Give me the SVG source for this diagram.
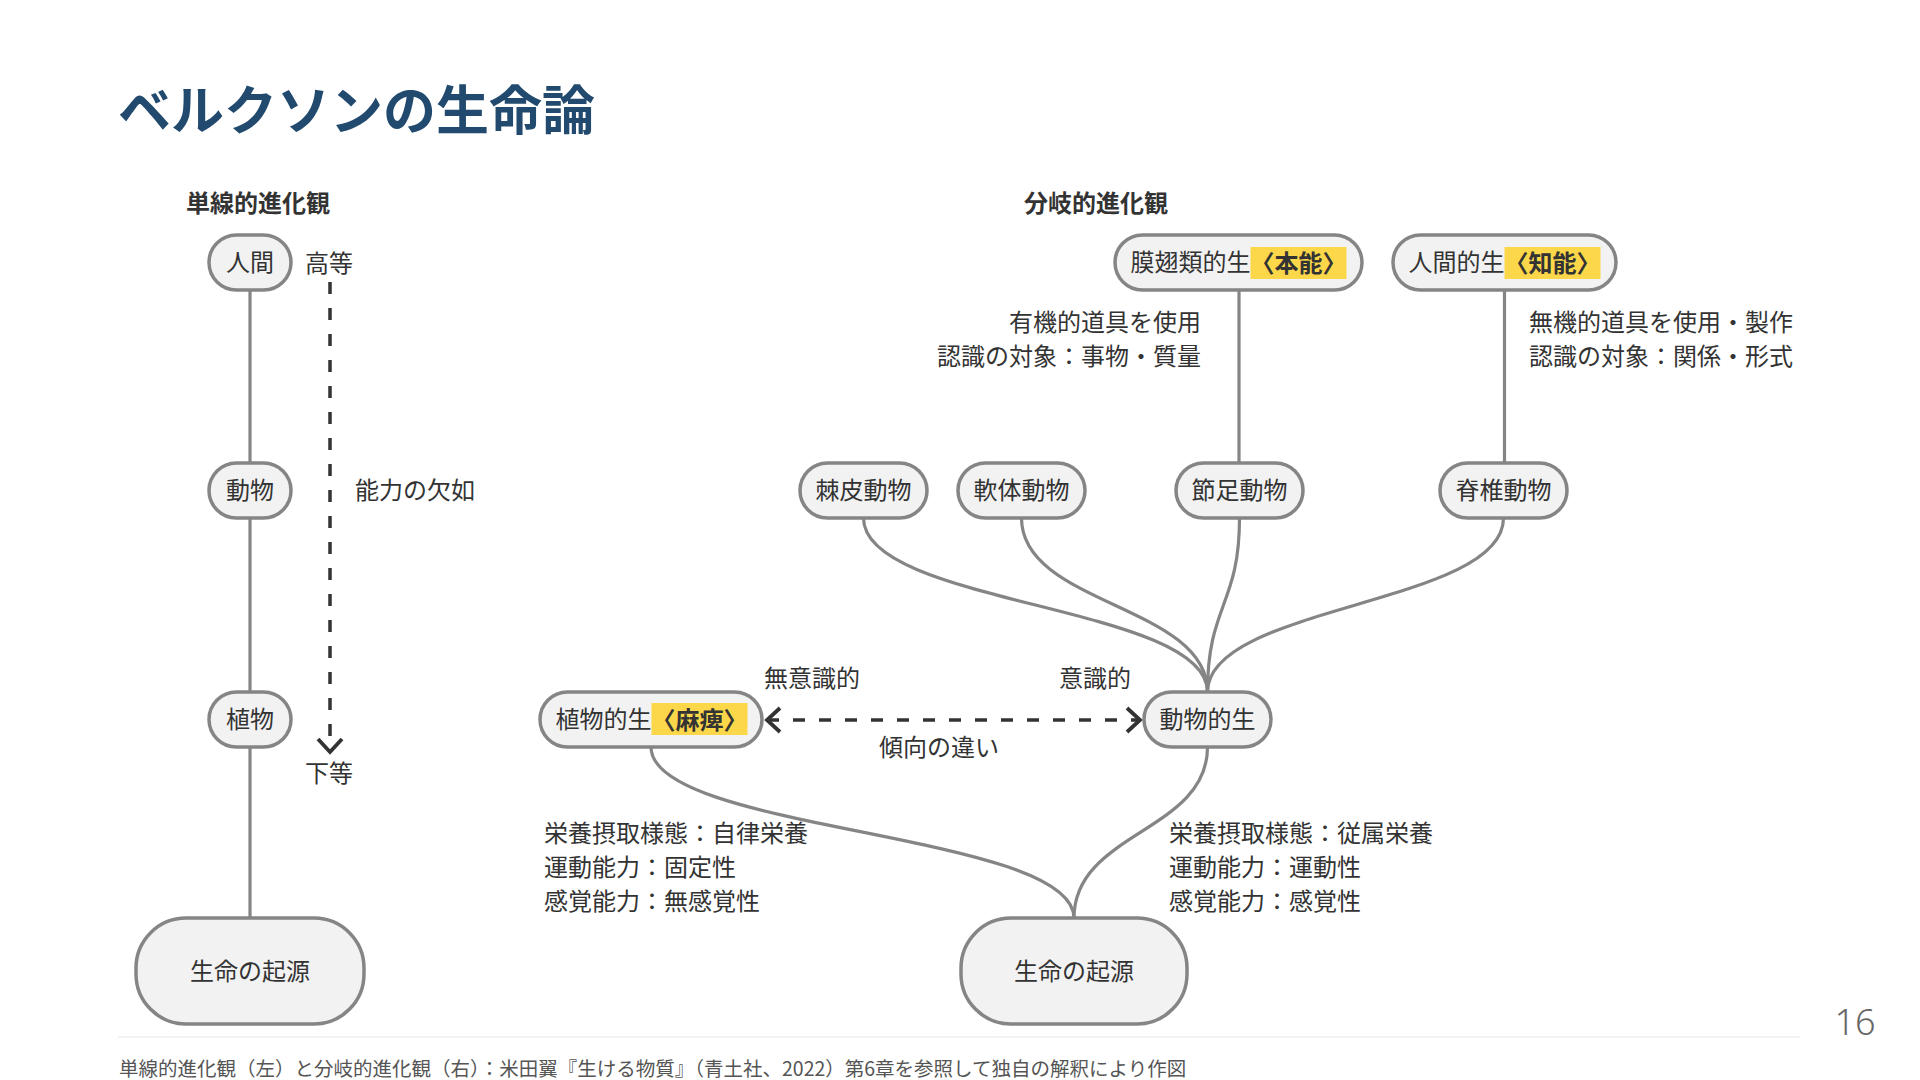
<svg xmlns="http://www.w3.org/2000/svg" width="1920" height="1080" viewBox="0 0 1920 1080">
<defs>
<style>
.t{font-family:"Noto Sans CJK JP","Noto Sans CJK SC",sans-serif;font-size:24px;fill:#333;dominant-baseline:central;transform:translate(0px,-2px)}
.b{font-weight:bold}
.n{fill:#f2f2f2;stroke:#858585;stroke-width:3.5}
.hl{fill:#fcd74a}
.e{fill:none;stroke:#858585;stroke-width:3.2}
.d{fill:none;stroke:#333;stroke-width:3.5;stroke-dasharray:12 14}
</style>
<marker id="chev" viewBox="0 0 20 30" markerWidth="20" markerHeight="30" refX="16" refY="15" orient="auto-start-reverse" markerUnits="userSpaceOnUse">
<path d="M3 3 L16 15 L3 27" fill="none" stroke="#333" stroke-width="3.8"/>
</marker>
</defs>
<rect width="1920" height="1080" fill="#fff"/>
<text x="118" y="130" font-family="'Noto Sans CJK JP',sans-serif" font-size="53" font-weight="bold" fill="#214a6e">ベルクソンの生命論</text>
<text class="t b" x="186" y="203">単線的進化観</text>
<text class="t b" x="1024" y="203">分岐的進化観</text>

<g id="connectors">
<path class="e" d="M250 290 V463"/>
<path class="e" d="M250 518 V692"/>
<path class="e" d="M250 747 V918"/>
<path class="d" d="M330 282 V752" marker-end="url(#chev)"/>
<path class="e" d="M1239 290 V463"/>
<path class="e" d="M1504.5 290 V463"/>
<path class="e" d="M863.5 518 C863.5 605 1207.5 605 1207.5 692"/>
<path class="e" d="M1021.5 518 C1021.5 605 1207.5 605 1207.5 692"/>
<path class="e" d="M1239.5 518 C1239.5 605 1207.5 605 1207.5 692"/>
<path class="e" d="M1503.5 518 C1503.5 605 1207.5 605 1207.5 692"/>
<path class="e" d="M651 747 C651 832 1074 832 1074 918"/>
<path class="e" d="M1207.5 747 C1207.5 832 1074 832 1074 918"/>
<path class="d" d="M767 720 H1140" marker-start="url(#chev)" marker-end="url(#chev)"/>
</g>

<g id="n-human"><rect class="n" x="209" y="235" width="82" height="55" rx="27.5"/><text class="t" x="250" y="262.5" text-anchor="middle">人間</text></g>
<g id="n-animal"><rect class="n" x="209" y="463" width="82" height="55" rx="27.5"/><text class="t" x="250" y="490.5" text-anchor="middle">動物</text></g>
<g id="n-plant"><rect class="n" x="209" y="692" width="82" height="55" rx="27.5"/><text class="t" x="250" y="719.5" text-anchor="middle">植物</text></g>
<g id="n-origin-left"><rect class="n" x="136" y="918" width="228" height="106" rx="50"/><text class="t" x="250" y="971" text-anchor="middle">生命の起源</text></g>
<text class="t" x="329" y="263" text-anchor="middle">高等</text>
<text class="t" x="329" y="773" text-anchor="middle">下等</text>
<text class="t" x="355" y="490">能力の欠如</text>

<g id="n-hymenoptera"><rect class="n" x="1115" y="235" width="247" height="55" rx="27.5"/><rect class="hl" x="1250.5" y="247" width="96" height="32"/><text class="t" x="1130.5" y="262.5">膜翅類的生<tspan class="b">〈本能〉</tspan></text></g>
<g id="n-humanlife"><rect class="n" x="1393" y="235" width="223" height="55" rx="27.5"/><rect class="hl" x="1504.5" y="247" width="96" height="32"/><text class="t" x="1408.5" y="262.5">人間的生<tspan class="b">〈知能〉</tspan></text></g>
<text class="t" x="1201" y="322" text-anchor="end">有機的道具を使用</text>
<text class="t" x="1201" y="356" text-anchor="end">認識の対象：事物・質量</text>
<text class="t" x="1529" y="322">無機的道具を使用・製作</text>
<text class="t" x="1529" y="356">認識の対象：関係・形式</text>

<g id="n-echino"><rect class="n" x="800" y="463" width="127" height="55" rx="27.5"/><text class="t" x="863.5" y="490.5" text-anchor="middle">棘皮動物</text></g>
<g id="n-mollusc"><rect class="n" x="958" y="463" width="127" height="55" rx="27.5"/><text class="t" x="1021.5" y="490.5" text-anchor="middle">軟体動物</text></g>
<g id="n-arthro"><rect class="n" x="1176" y="463" width="127" height="55" rx="27.5"/><text class="t" x="1239.5" y="490.5" text-anchor="middle">節足動物</text></g>
<g id="n-verte"><rect class="n" x="1440" y="463" width="127" height="55" rx="27.5"/><text class="t" x="1503.5" y="490.5" text-anchor="middle">脊椎動物</text></g>

<g id="n-plantlife"><rect class="n" x="540" y="692" width="222" height="55" rx="27.5"/><rect class="hl" x="651.5" y="703" width="96" height="32"/><text class="t" x="555.5" y="719.5">植物的生<tspan class="b">〈麻痺〉</tspan></text></g>
<g id="n-animallife"><rect class="n" x="1144" y="692" width="127" height="55" rx="27.5"/><text class="t" x="1207.5" y="719.5" text-anchor="middle">動物的生</text></g>
<text class="t" x="812" y="678" text-anchor="middle">無意識的</text>
<text class="t" x="1095" y="678" text-anchor="middle">意識的</text>
<text class="t" x="939" y="747" text-anchor="middle">傾向の違い</text>

<text class="t" x="544" y="833">栄養摂取様態：自律栄養</text>
<text class="t" x="544" y="867">運動能力：固定性</text>
<text class="t" x="544" y="901">感覚能力：無感覚性</text>
<text class="t" x="1169" y="833">栄養摂取様態：従属栄養</text>
<text class="t" x="1169" y="867">運動能力：運動性</text>
<text class="t" x="1169" y="901">感覚能力：感覚性</text>

<g id="n-origin-right"><rect class="n" x="961" y="918" width="226" height="106" rx="50"/><text class="t" x="1074" y="971" text-anchor="middle">生命の起源</text></g>

<line x1="118" y1="1037" x2="1800" y2="1037" stroke="#eeeeee" stroke-width="1.5"/>
<text x="1855" y="1035" text-anchor="middle" font-family="'Noto Sans','Liberation Sans',sans-serif" font-size="36" font-weight="300" fill="#666">16</text>
<text x="119" y="1067" font-family="'Noto Sans CJK JP',sans-serif" font-size="19.5" fill="#555" dominant-baseline="central">単線的進化観（左）と分岐的進化観（右）：米田翼『生ける物質』（青土社、2022）第6章を参照して独自の解釈により作図</text>
</svg>
